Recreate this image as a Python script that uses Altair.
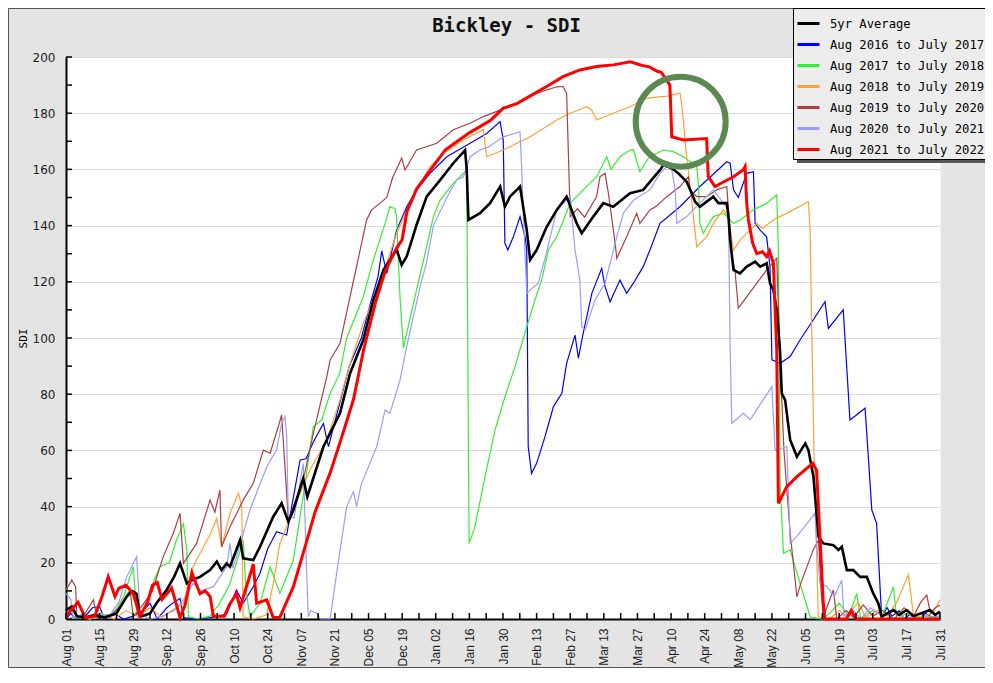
import altair as alt
import pandas as pd

SERIES = ["5yr Average", "Aug 2016 to July 2017", "Aug 2017 to July 2018",
          "Aug 2018 to July 2019", "Aug 2019 to July 2020", "Aug 2020 to July 2021",
          "Aug 2021 to July 2022"]
COLORS = ["#000000", "#0000ff", "#33ee33", "#ffa033", "#aa4040", "#9c9cff", "#ff0000"]
TITLE = "Bickley - SDI"

SEASON_START = "2021-08-01"

# (day of season, SDI) pairs
AVG = [(0,3.2),(2.4,4.4),(4.5,1),(8,0.5),(12,1.5),(16,0.5),(21,2),(25.3,8),(27.5,10),(29.4,9),(30.8,0.8),
       (35,2),(38,6),(41.9,10.3),(45,15),(47.5,19.8),(50.3,12.7),(53,14),(55.8,15),(60,17.4),(62.8,20.4),
       (64.8,17.4),(66.9,19.8),(68.3,18.6),(72.5,28.1),(73.8,21.6),(78,21),(80.8,25.7),(86.3,36.4),(89.8,41.2),
       (92.6,34.6),(94.7,38.8),(98.8,50),(100.5,43.5),(107.2,61.3),(114.1,73.2),(118.3,87.4),(123.8,99.3),
       (128,113.5),(132.2,124.2),(137.7,131.5),(139.8,126),(141.9,129),(146.1,140.5),(150.2,150.3),
       (155.8,156.2),(161.3,162.2),(166.2,166.9),(166.9,159.8),(167.6,142),(172.4,144.4),(176.6,148),
       (180.8,153.9),(182.8,146.7),(184.9,150.3),(189.1,153.9),(191.9,138.4),(193.3,127.8),(196,131.3),
       (200.2,139.6),(204.4,145.6),(208.5,150.3),(212.7,140.8),(214.8,137.3),(219.6,143.2),(223.8,148),
       (227.9,146.7),(234.9,151.5),(240.4,152.7),(247.4,159.8),(248.8,161.6),(252.3,160.4),(255,158.6),
       (258.5,155.6),(260.6,151.5),(262,148.5),(264,146.7),(269.6,150.3),(271.7,148),(275.2,148),
       (275.9,143.2),(276.6,134.9),(278,124.2),(280.7,123),(283.5,125.4),(287,127.2),(289.1,125.4),
       (291.8,126.6),(293.2,119.5),(294.6,117.1),(296,110),(296.7,103),(297.4,95),(298.1,80.3),(299.5,77.9),
       (301.6,63.7),(304.4,57.8),(307.9,62.5),(309.2,60.1),(311.3,50.6),(313.4,29.3),(315.4,26.9),
       (319.6,26.3),(321.7,24.6),(323.1,25.7),(325.2,17.4),(327.9,17.4),(330.7,15),(333.5,15),(336.2,9.1),
       (338.3,5.6),(339.7,0.8),(342,2),(344.6,3.2),(347,1.5),(350.1,3.2),(353,1),(356,2),(359.8,3.2),
       (362,1.5),(364,2.6)]

S2016 = [(0,0),(2,2),(4,0),(8,1),(11,4),(14,4.4),(16,0),(20,2),(24,0),(28,1),(32,3),(35,5.6),(38,0),(42,4),
         (45,6),(47.5,7.3),(49,0.5),(55,0),(60,0.5),(64,1),(67,2),(71,10.3),(73.8,5.6),(78,11.5),(80.8,16.3),
         (84,25),(87.7,31.1),(91.9,29.9),(94,40),(97.5,56.6),(100,57),(103,63),(107.2,69.6),(109.3,61.3),
         (114,76.8),(118,90),(123,100),(127,113),(130,122),(131.5,131),(133.6,123),(137.7,138.4),(141.9,146.7),
         (146,152.7),(151.6,158.6),(158.6,164.5),(168.3,169.3),(175.2,172.8),(180.8,177),(182.1,170.5),
         (182.8,133.7),(184,131.3),(186.3,136),(189.1,143.2),(191.2,136),(191.9,131),(192.5,61.3),(193.9,51.8),
         (196,55.4),(199.5,64.9),(203,75.6),(206.5,80.3),(208.5,91),(212,101),(213.4,92.8),(215.4,101.7),
         (219,115.9),(223.1,124.8),(224.5,118.3),(226.6,112.9),(230.7,120.6),(233.5,115.9),(236.3,119.5),
         (240.4,125.4),(243.2,131.3),(247.4,140.8),(255.7,146.7),(264,153.9),(275.2,162.7),(276.6,162.2),
         (278,152.7),(280,150),(283.5,158.6),(286.3,159.2),(287,140.8),(289.1,138.4),(291.8,136),(293.2,125.4),
         (294,92.2),(297.4,91),(301.6,93.4),(305.7,99.3),(311.2,106.4),(316.1,112.9),(317.5,103.4),(323.7,110),
         (326.5,70.8),(332.8,75),(335.6,38.8),(337.6,34),(339.7,0.8),(342,4),(344,1),(347,3),(349,0),(352,2),
         (355,0),(358,2),(361,0.5),(364,1)]

S2017 = [(0,0),(5,0.5),(10,0),(15,1),(20,2),(24,8),(28,18.6),(29.4,3.2),(32,2),(35,10),(39,18.6),(43,20),
         (46,28),(48.9,34),(50.3,24.6),(51,0.8),(55,0),(60,1),(64,5.6),(68,12),(71,20),(73.8,28.1),(75,10),
         (76.6,0.8),(80.8,5.6),(85,18.6),(89.1,9.1),(94.7,21),(99,45),(103,68.4),(106.5,70.8),(110,80.3),
         (114,87.4),(116.9,100),(123.8,114.7),(128,127.8),(132.9,140.8),(134.9,146.7),(137,146),(137.7,143),
         (139.1,114.7),(140.5,96.3),(141.9,101.7),(146,117.1),(150.2,132.5),(153,143.2),(155.8,149.1),
         (161.3,155),(166.9,159.8),(167.6,60),(167.9,26.9),(170.3,32.8),(174.5,50.6),(178.7,67.3),(182.8,79.1),
         (187,89.8),(191.9,104),(195.3,113.5),(198.1,120.6),(200.9,131.3),(204.4,136),(210,148),(215.4,152.7),
         (221,157.4),(225.2,164.5),(227,160),(230.7,164.5),(234.9,166.9),(236.3,167),(239,159.2),(243,164.5),
         (248.8,166.9),(252.9,166.3),(257.1,164.5),(259.2,163.3),(262.7,161),(263.4,155),(264,140.8),
         (265.4,137.3),(269.6,143.2),(273.8,144.4),(278,140.8),(280.8,142),(286.3,145.6),(291.8,148),
         (296,150.9),(296.7,131.3),(297.4,48.3),(298.8,23.4),(301.6,24.6),(305.7,12.7),(309.9,0.8),(315,0),
         (318,2),(322,5.6),(326,1),(329.3,9.1),(331,0),(336,3),(340,1),(344.6,11.5),(346,0),(350,2),(355,0.5),
         (360,1),(364,0)]

S2018 = [(0,0),(5,1),(10,0),(15,2),(20,0),(25,3),(30,1),(35,4),(40,0.5),(44,3),(48.9,5.6),(53,18.6),
         (57.2,25.7),(60,30),(62.8,35.8),(64.8,25.7),(68.3,37.6),(71.8,44.7),(73.2,40),(73.8,0.8),(78,0),
         (83.6,1.5),(86.3,12.7),(89.1,26.9),(91.9,32.8),(97.5,44.7),(101.6,53),(108.6,63.7),(114.1,77.9),
         (118,90),(123.8,105.2),(130.8,119.5),(137.7,137.3),(146,152.7),(151.6,161),(157.1,165.7),(165.5,170.5),
         (173.8,174.1),(175.2,164.5),(182.1,166.9),(193.3,171.6),(204.4,177.6),(210,180),(216.9,182.3),
         (219,181),(221,177.6),(227.9,180),(234.9,182.3),(241.9,185.3),(247.4,185.9),(250,186),(255.7,187.1),
         (256.4,183.5),(258.5,164.5),(261.3,143.2),(262.7,132.5),(266.8,136),(269.6,140.8),(273.8,145.6),
         (276,143),(278,131.3),(280.8,134.9),(284.9,138.4),(287.7,140.8),(290,139),(294.6,142),(302.9,145.6),
         (309.2,148.5),(309.9,138),(310.5,107),(311.5,60),(312.6,24.6),(313.3,0.8),(318,0),(322,3),(325,1),
         (330,6),(333,0.5),(338,3),(342,1),(346,6),(350.8,15.7),(352,8),(353,0.5),(357,1),(361,2),(364,6.8)]

S2019 = [(0,10.3),(2.4,13.9),(4,11.5),(4.5,0.8),(8,2),(11.4,6.8),(13,0.5),(18,1),(22,4),(26.7,10.3),
         (28,0.8),(32,5),(36,10),(40.5,22.2),(44.7,30.5),(47.5,37.6),(48.9,19.8),(54.4,26.9),(60,42.3),(62,38),
         (64.1,45.9),(64.8,25.7),(68.3,32.8),(71.8,38.8),(73.8,42.3),(78,48.3),(82.2,60.1),(85,59),(88.4,68.4),
         (89.8,72.6),(91.9,44.7),(92.6,35.2),(98.8,49.5),(103,66.1),(108.6,86.2),(110,92.2),(114.1,98),
         (118.3,114.7),(125.2,142),(127.3,145.6),(130.8,148),(133.6,150),(136,157),(139.8,164),(141.2,159.8),
         (146,166.9),(154.4,169.3),(161.3,174.1),(168.3,176.4),(173.8,178.8),(180.8,181.1),(187.7,183.5),
         (196,187.1),(204.4,189.4),(207,189.5),(208.5,187.1),(210,143.2),(213,146),(216,143),(221,150.3),
         (222.4,157.4),(224.5,158.6),(225.9,151.5),(228.7,133.7),(229.4,128.4),(233.5,136),(237.7,144.4),
         (239,140.8),(243.2,145.6),(246,147),(250.2,150.3),(255.7,153.9),(259.2,157.4),(259.9,152.7),
         (262.7,150.3),(266.8,150.3),(271,152.7),(275.2,153.9),(275.9,145.6),(277.3,129),(278.6,124.2),
         (280,110.6),(287.7,119.5),(291.8,124.2),(296,128.4),(297.5,90),(299,60),(301.6,30.5),(304.4,7.9),
         (306,12.7),(311.2,24.6),(313.4,28.1),(314.5,10),(315.4,0.8),(319.6,10.3),(321,0),(325,3),(328,0.5),
         (332,5),(336,1),(340,3),(345,0),(349,4),(353,1),(356,6),(358.5,8.5),(360,2),(362,4),(364,5)]

S2020 = [(0,9.1),(2,7),(3,0.5),(6,1),(10,0),(14,2),(18,1),(22,6),(25.3,15),(29.4,22.2),(30.1,12.7),(30.8,2),
         (35,0),(40,1),(45,3),(50,8),(53,12.7),(56,10),(61.4,11.5),(66.9,18.6),(68.3,26.9),(69.5,18),(72,25),
         (76.6,38.8),(83.6,54.2),(87.7,60.1),(89.8,69.6),(91.2,72),(91.9,64.9),(92.6,36.4),(95,36),(98.8,55.4),
         (100.2,17.4),(100.9,0.8),(102,3),(104.4,2),(106,0),(110,0),(113,18),(116.9,40),(119.7,45.3),(121,40),
         (123,48),(129.4,61.3),(132.9,74.4),(134.9,73.2),(139.1,85),(141.9,97),(147.4,118),(150.2,127),
         (153,140),(158.6,150),(162.7,156.2),(165.5,157.4),(168.3,164.5),(172.4,166.9),(176,168),(182.1,171.6),
         (189.1,173.4),(189.8,160),(190.5,143.2),(191.9,115.9),(194.6,118),(196.7,119.5),(200,130),
         (204.4,145.6),(210,150.3),(212,131.3),(214,120.6),(214.8,104),(216.2,102.8),(220.3,113.5),
         (224.5,119.5),(229.4,136),(232.1,144.4),(236.3,149),(243.2,152.7),(247.4,158.6),(250.2,161),
         (252.3,159.8),(253.7,152.7),(254.4,140.8),(258.5,143.2),(264,148),(269.6,152.7),(272,150),
         (275.9,145.6),(276.6,95.7),(277.3,69.6),(282.1,73.2),(285,71),(294,82.7),(295.3,60.1),(300.2,61.3),
         (301.6,26.9),(305,30),(311.9,37.6),(312.5,28.1),(314,12.7),(316.9,11.5),(320,8),(323.1,13.9),(324,1),
         (328,3),(331,0),(335,4),(340,1),(345,3),(350,0),(355,2),(360,0.5),(364,1)]

S2021 = [(0,1),(2,3),(5,6),(8,0.5),(12,1),(15,8),(17.6,15),(20.4,8),(22,11),(25,12),(28,9),(30.8,1),(34,6),
         (36,12),(38,13),(40,7),(42,9),(44,11),(47.5,0.5),(49.6,5),(52.4,16.5),(55.8,9),(58,10),(60,8),
         (61.4,1),(66,1),(68,5),(71,9),(72.5,4),(78,19.5),(79.4,5.6),(83.6,6.8),(86.3,0.5),(89,0.5),(94.7,11.5),
         (100,27),(103.7,38),(110,52),(114,62.5),(119.7,78),(124,96),(129,113),(133,124),(137.7,132),(140,135),
         (142,145),(146,153),(152,160),(158,167),(168,173),(177,177.6),(182,181.7),(188,183.5),(193,186),
         (200,189.4),(207,193),(214,195.4),(221,196.6),(228,197.2),(235,198.3),(240,197),(243,196.5),
         (246,195),(248,194.5),(251.5,190),(252.3,171.6),(257,170.5),(266.8,171),(267.5,157.4),(270.3,153.9),
         (274,155.6),(278,157.4),(282,159.8),(282.8,161),(283.5,148),(284.2,142),(286,133.7),(287.7,130),
         (290,130.7),(291.8,129),(293,131),(294.6,126.6),(296,95.7),(296.7,41.2),(300.2,47.1),(304.3,50.6),
         (311,55.4),(312.6,53),(314,29.3),(315.4,5.6),(316,0),(325,0),(327,3),(329,0),(364,0)]

SERIES_POINTS = [AVG, S2016, S2017, S2018, S2019, S2020, S2021]

# annotation circle (date, SDI of its centre)
ANNOT_DAY = [256]
ANNOT_SDI = [177]

X_LABEL_STEP_DAYS = 14
X_MINOR_STEP_DAYS = 7
Y_LABELS = list(range(0, 201, 20))
Y_MINOR = list(range(0, 201, 10))

start = pd.Timestamp(SEASON_START)


def to_date(d):
    return (start + pd.Timedelta(days=d)).strftime("%Y-%m-%dT%H:%M:%S")


rows = []
for name, pts in zip(SERIES, SERIES_POINTS):
    for d, v in pts:
        rows.append({"date": to_date(d), "sdi": v, "series": name})
df = pd.DataFrame(rows)

thin = df[~df["series"].isin([SERIES[0], SERIES[-1]])]
avg = df[df["series"] == SERIES[0]]
red = df[df["series"] == SERIES[-1]]

label_dates = pd.date_range(SEASON_START, "2022-07-31", freq=f"{X_LABEL_STEP_DAYS}D")
tick_values = [alt.DateTime(year=int(t.year), month=int(t.month), date=int(t.day)) for t in label_dates]
minor_dates = pd.date_range(SEASON_START, "2022-07-31", freq=f"{X_MINOR_STEP_DAYS}D")
xt_df = pd.DataFrame({"date": [t.strftime("%Y-%m-%dT%H:%M:%S") for t in minor_dates]})
yt_df = pd.DataFrame({"sdi": Y_MINOR})
ann_df = pd.DataFrame({"date": [to_date(d) for d in ANNOT_DAY], "sdi": ANNOT_SDI})
one = pd.DataFrame({"k": [0]})
title_df = pd.DataFrame({"t": [TITLE]})

W, H = 874, 562
LEFT, TOP, RIGHT, BOTTOM = 58, 49, 45, 49

X = alt.X("date:T",
          scale=alt.Scale(domain=[alt.DateTime(year=2021, month=8, date=1),
                                  alt.DateTime(year=2022, month=7, date=31)], nice=False),
          axis=alt.Axis(values=tick_values, format="%b %d", labelAngle=270, labelAlign="right",
                        labelBaseline="middle", labelPadding=9, tickSize=0, grid=False,
                        domainColor="#000000", domainWidth=2, labelFont="Liberation Sans",
                        labelFontSize=12, labelColor="#222222", labelOverlap=False,
                        labelFlush=False, title=None))
Y = alt.Y("sdi:Q",
          scale=alt.Scale(domain=[0, 200], nice=False),
          axis=alt.Axis(values=Y_LABELS, tickSize=0, labelPadding=11, grid=True,
                        gridColor="#dcdcdc", gridWidth=1, domainColor="#000000", domainWidth=2,
                        labelFont="DejaVu Sans", labelFontSize=12, labelColor="#222222",
                        title="SDI", titleFont="DejaVu Sans Mono", titleFontSize=11,
                        titleFontWeight="normal", titleColor="#000000", titlePadding=4))
COLOR = alt.Color("series:N",
                  scale=alt.Scale(domain=SERIES, range=COLORS),
                  legend=alt.Legend(orient="none", legendX=727, legendY=-49, title=None,
                                    fillColor="#ececec", strokeColor="#000000", padding=3,
                                    symbolType="stroke", symbolStrokeWidth=3, symbolSize=484,
                                    labelFont="DejaVu Sans Mono", labelFontSize=12.2,
                                    labelColor="#000000", labelOffset=9, rowPadding=2,
                                    labelLimit=300))

frame = alt.Chart(one).mark_rect(filled=False, stroke="#555555", strokeWidth=1).encode(
    x=alt.value(-LEFT + 0.5), x2=alt.value(W + RIGHT + 10),
    y=alt.value(-TOP + 0.5), y2=alt.value(H + BOTTOM - 0.5))
shadow = alt.Chart(one).mark_rect(color="#555555").encode(
    x=alt.value(731), x2=alt.value(980), y=alt.value(-45), y2=alt.value(106))
title = alt.Chart(title_df).mark_text(font="DejaVu Sans Mono", fontSize=19, fontWeight="bold",
                                      color="#111111", align="center", baseline="alphabetic").encode(
    text="t:N", x=alt.value(440.5), y=alt.value(-25))

thin_lines = alt.Chart(thin).mark_line(strokeWidth=1.2).encode(x=X, y=Y, color=COLOR, detail="series:N")
avg_line = alt.Chart(avg).mark_line(strokeWidth=2.6).encode(x=X, y=Y, color=COLOR)
red_line = alt.Chart(red).mark_line(strokeWidth=3).encode(x=X, y=Y, color=COLOR)

x_ticks = alt.Chart(xt_df).mark_rule(color="#000000", strokeWidth=1.5).encode(
    x=X, y=alt.value(H), y2=alt.value(H - 6))
y_ticks = alt.Chart(yt_df).mark_rule(color="#000000", strokeWidth=1.5).encode(
    y=Y, x=alt.value(0), x2=alt.value(6))

circle = alt.Chart(ann_df).mark_point(shape="circle", filled=False, size=8100,
                                      stroke="#5a8a52", strokeWidth=6, opacity=1).encode(x=X, y=Y)

chart = alt.layer(frame, shadow, title, thin_lines, avg_line, red_line, x_ticks, y_ticks, circle).properties(
    width=W, height=H,
    padding={"left": LEFT, "top": TOP, "right": RIGHT, "bottom": BOTTOM},
    autosize=alt.AutoSizeParams(type="none"),
).configure(background="#e4e4e4").configure_view(fill="#ffffff", stroke="transparent")

chart.save("out.html", embed_options={"renderer": "svg", "actions": False})
